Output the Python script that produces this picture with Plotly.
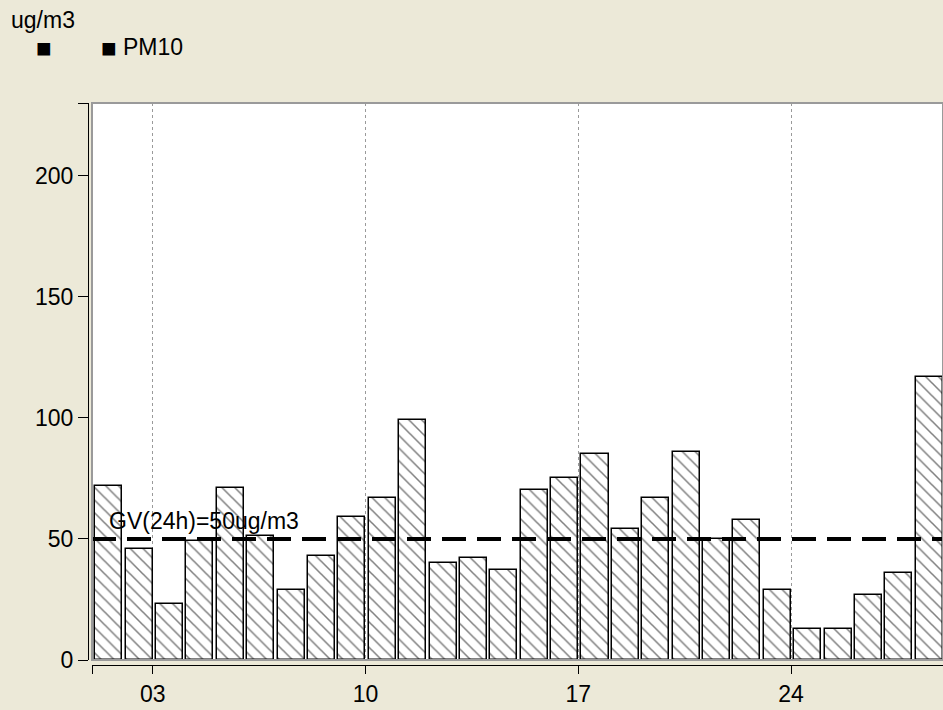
import plotly.graph_objects as go

days = list(range(1, 29))
pm10 = [72, 46, 23, 49, 71, 51, 29, 43, 59, 67, 99, 40, 42, 37, 70, 75, 85, 54, 67, 86,
        50, 58, 29, 13, 13, 27, 36, 117]
guide_value = 50
guide_label = "GV(24h)=50ug/m3"
xtick_vals = [1, 3, 10, 17, 24]
xtick_text = ["", "03", "10", "17", "24"]
ytick_vals = [0, 50, 100, 150, 200, 230]
ytick_text = ["0", "50", "100", "150", "200", ""]

FONT = "Liberation Sans, Arial, sans-serif"
FS = 23
W, H = 943, 710
ML, MR, MT, MB = 88, 0, 103, 45
PW = W - ML - MR
PH = H - MT - MB

fig = go.Figure()
fig.add_trace(go.Bar(
    x=[d + 0.55 for d in days], y=pm10, width=0.89,
    marker=dict(color="white", line=dict(color="black", width=1.5),
                pattern=dict(shape="\\", size=9, solidity=0.17,
                             fgcolor="black", bgcolor="white")),
    showlegend=False, hoverinfo="x+y",
))
fig.add_trace(go.Scatter(
    x=[days[0], days[-1] + 1], y=[guide_value, guide_value], mode="lines",
    line=dict(color="black", width=4, dash="24px,11px"),
    showlegend=False, hoverinfo="skip",
))

fig.add_annotation(x=1.5, y=57.5, xref="x", yref="y", text=guide_label,
                   showarrow=False, xanchor="left", yanchor="middle",
                   font=dict(family=FONT, size=FS, color="black"))

# plot frame
fig.add_shape(type="rect", xref="x domain", yref="y domain", x0=0, x1=1, y0=0, y1=1,
              line=dict(color="#9a9a9a", width=2), layer="above")

# header texts (axis unit + legend)
def px(xp):
    return (xp - ML) / PW

def py(yp):
    return (H - MB - yp) / PH

fig.add_annotation(x=px(9), y=py(20), xref="paper", yref="paper",
                   text="ug/m3", showarrow=False, xanchor="left", yanchor="middle",
                   font=dict(family=FONT, size=FS, color="black"))
fig.add_annotation(x=px(34), y=py(48), xref="paper", yref="paper",
                   text="■", showarrow=False, xanchor="left", yanchor="middle",
                   font=dict(family=FONT, size=26, color="black"))
fig.add_annotation(x=px(99), y=py(48), xref="paper", yref="paper",
                   text="■", showarrow=False, xanchor="left", yanchor="middle",
                   font=dict(family=FONT, size=26, color="black"))
fig.add_annotation(x=px(121), y=py(47), xref="paper", yref="paper",
                   text="PM10", showarrow=False, xanchor="left", yanchor="middle",
                   font=dict(family=FONT, size=FS, color="black"))

fig.update_layout(
    width=W, height=H,
    margin=dict(l=ML, r=MR, t=MT, b=MB, pad=0),
    paper_bgcolor="#ECE9D8", plot_bgcolor="white",
    font=dict(family=FONT, size=FS, color="black"),
    bargap=0,
    xaxis=dict(range=[1, 29], domain=[4 / PW, 1], anchor="free", position=0,
               tickmode="array", tickvals=xtick_vals, ticktext=xtick_text,
               ticks="outside", ticklen=8, tickcolor="black", tickwidth=1,
               showline=True, linecolor="black", linewidth=1,
               showgrid=True, gridcolor="#9a9a9a", griddash="dot", gridwidth=1,
               zeroline=False, tickfont=dict(size=FS)),
    yaxis=dict(range=[0, 230], domain=[5 / PH, 1], anchor="free", position=0,
               tickmode="array", tickvals=ytick_vals, ticktext=ytick_text,
               ticks="outside", ticklen=10, tickcolor="black", tickwidth=1,
               showline=True, linecolor="black", linewidth=1,
               showgrid=False, zeroline=False, tickfont=dict(size=FS)),
)

fig.write_html("out.html", config={"displayModeBar": False},
               post_script="document.body.style.margin='0';document.body.style.padding='0';")
